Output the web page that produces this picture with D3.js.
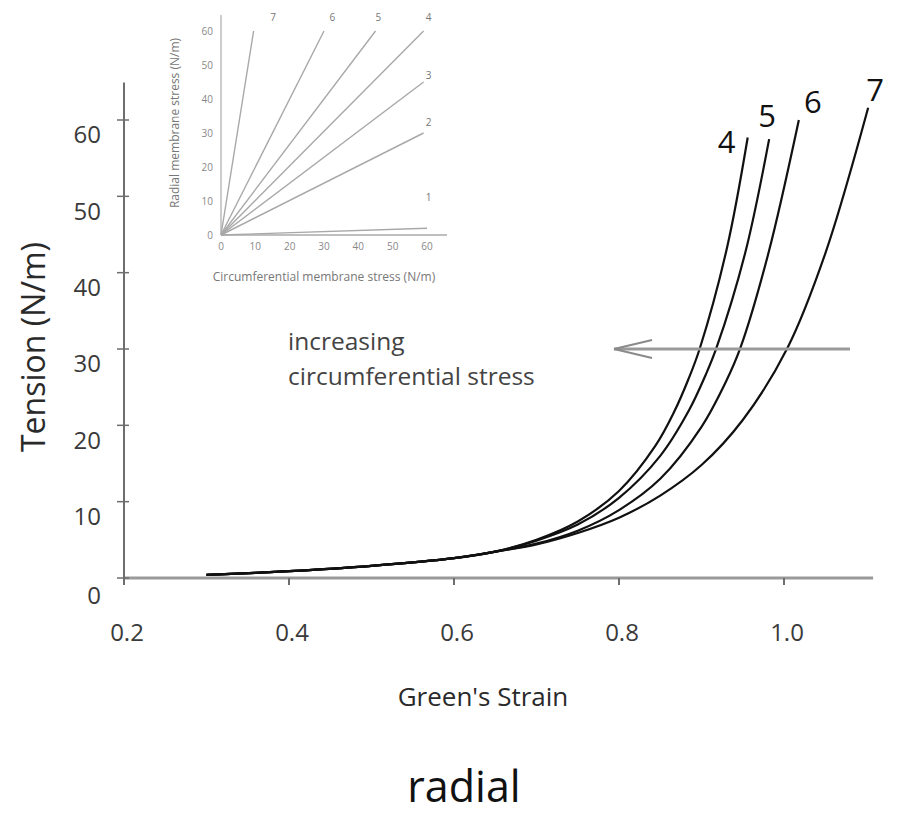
<!DOCTYPE html>
<html>
<head>
<meta charset="utf-8">
<script src="https://cdn.jsdelivr.net/npm/d3@7"></script>
<style>
  body { margin: 0; background: #fff; }
  svg { display: block; }
  text { font-family: "Open Sans", sans-serif; }
</style>
</head>
<body>
<div id="chart"></div>
<script>
// main chart data: Green's strain vs tension (N/m), curves 4..7
var curveIds = ["4", "5", "6", "7"];
var strainShared  = [0.30, 0.40, 0.50, 0.60, 0.65];
var tensionShared = [0.4, 0.9, 1.6, 2.6, 3.45];
var strain4  = [0.70, 0.75, 0.80, 0.844, 0.867, 0.884, 0.898, 0.931, 0.956];
var tension4 = [5.0, 7.4, 11.4, 17.3, 21.8, 26.0, 30.1, 43.3, 57.7];
var strain5  = [0.70, 0.75, 0.80, 0.85, 0.885, 0.905, 0.918, 0.953, 0.982];
var tension5 = [4.9, 7.0, 10.5, 16.0, 22.0, 26.6, 30.1, 42.6, 57.5];
var strain6  = [0.70, 0.75, 0.80, 0.85, 0.90, 0.93, 0.947, 0.981, 1.018];
var tension6 = [4.5, 6.2, 8.9, 13.0, 19.8, 25.8, 30.1, 42.5, 60.0];
var strain7  = [0.70, 0.75, 0.80, 0.85, 0.90, 0.95, 1.004, 1.05, 1.102];
var tension7 = [4.4, 5.9, 7.9, 10.8, 14.8, 20.7, 30.1, 42.5, 61.6];

var xTicks = [0.2, 0.4, 0.6, 0.8, 1.0];
var yTicks = [0, 10, 20, 30, 40, 50, 60];
var xAxisEnd = 1.108, yAxisEnd = 64.9;
var arrowLevel = 30, arrowFrom = 1.08, arrowTo = 0.794;

// inset: radial vs circumferential membrane stress
var insetIds  = ["1", "2", "3", "4", "5", "6", "7"];
var insetEndX = [60, 59, 59, 59, 45, 30, 9.5];
var insetEndY = [2, 30, 45, 60, 60, 60, 60];
var insetLabelX = [60.5, 60.5, 60.5, 60.5, 45.8, 32.4, 15.2];
var insetLabelY = [10.9, 33.2, 47, 64, 64, 64, 64];
var insetTicks = [0, 10, 20, 30, 40, 50, 60];

var width = 898, height = 817;

var svg = d3.select("#chart").append("svg")
    .attr("width", width)
    .attr("height", height);

var x = d3.scaleLinear().domain([0.2, 1.0]).range([124, 784]);
var y = d3.scaleLinear().domain([0, 60]).range([578, 120]);

// axes
svg.append("line")
    .attr("x1", x(0.2)).attr("x2", x(xAxisEnd))
    .attr("y1", y(0)).attr("y2", y(0))
    .attr("stroke", "#9a9a9a").attr("stroke-width", 3);
svg.append("line")
    .attr("x1", x(0.2)).attr("x2", x(0.2))
    .attr("y1", y(0) + 1).attr("y2", y(yAxisEnd))
    .attr("stroke", "#6e6e6e").attr("stroke-width", 2);

svg.selectAll(".xtick").data(xTicks).enter().append("line")
    .attr("x1", d => x(d)).attr("x2", d => x(d))
    .attr("y1", y(0)).attr("y2", y(0) + 7)
    .attr("stroke", "#6e6e6e").attr("stroke-width", 2);
svg.selectAll(".ytick").data(yTicks).enter().append("line")
    .attr("x1", x(0.2) - 7).attr("x2", x(0.2) + 5)
    .attr("y1", d => y(d)).attr("y2", d => y(d))
    .attr("stroke", "#6e6e6e").attr("stroke-width", 1.5);

svg.selectAll(".xlab").data(xTicks).enter().append("text")
    .attr("x", d => x(d) + 3).attr("y", 641)
    .attr("text-anchor", "middle")
    .attr("font-size", 24).attr("fill", "#3a3a3a")
    .text(d => d3.format(".1f")(d));
svg.selectAll(".ylab").data(yTicks).enter().append("text")
    .attr("x", 101).attr("y", d => y(d) + (d === 0 ? 18 : 15))
    .attr("dy", "0.35em")
    .attr("text-anchor", "end")
    .attr("font-size", 24).attr("fill", "#3a3a3a")
    .text(d => d);

svg.append("text")
    .attr("transform", "translate(45,347) rotate(-90)")
    .attr("text-anchor", "middle")
    .attr("font-size", 32).attr("fill", "#2a2a2a")
    .text("Tension (N/m)");
svg.append("text")
    .attr("x", 483).attr("y", 706)
    .attr("text-anchor", "middle")
    .attr("font-size", 26).attr("fill", "#2a2a2a")
    .text("Green's Strain");
svg.append("text")
    .attr("x", 464).attr("y", 802)
    .attr("text-anchor", "middle")
    .attr("font-size", 43).attr("fill", "#111")
    .text("radial");

// curves
var curveStrains = [strain4, strain5, strain6, strain7];
var curveTensions = [tension4, tension5, tension6, tension7];
var curves = curveIds.map(function(id, i) {
    var pts = strainShared.map((s, j) => [s, tensionShared[j]]);
    curveStrains[i].forEach((s, j) => pts.push([s, curveTensions[i][j]]));
    return { id: id, pts: pts };
});

var line = d3.line()
    .x(d => x(d[0]))
    .y(d => y(d[1]))
    .curve(d3.curveCatmullRom.alpha(0.5));

svg.append("g").selectAll("path").data(curves).enter().append("path")
    .attr("d", d => line(d.pts))
    .attr("fill", "none")
    .attr("stroke", "#111")
    .attr("stroke-width", 2.2);

var labelDx = [-21, -2, 14, 7], labelDy = [5, -23, -18, -18];
svg.selectAll(".clab").data(curves).enter().append("text")
    .attr("x", (d, i) => x(d.pts[d.pts.length - 1][0]) + labelDx[i])
    .attr("y", (d, i) => y(d.pts[d.pts.length - 1][1]) + labelDy[i])
    .attr("dy", "0.35em")
    .attr("text-anchor", "middle")
    .attr("font-size", 31).attr("fill", "#111")
    .text(d => d.id);

// arrow
svg.append("line")
    .attr("x1", x(arrowFrom)).attr("x2", x(arrowTo))
    .attr("y1", y(arrowLevel)).attr("y2", y(arrowLevel))
    .attr("stroke", "#9a9a9a").attr("stroke-width", 3);
svg.append("path")
    .attr("d", "M" + (x(arrowTo) + 38) + "," + (y(arrowLevel) - 9) +
               "L" + x(arrowTo) + "," + y(arrowLevel) +
               "L" + (x(arrowTo) + 38) + "," + (y(arrowLevel) + 9))
    .attr("fill", "none")
    .attr("stroke", "#8a8a8a").attr("stroke-width", 2);

svg.append("text")
    .attr("x", 288).attr("y", 350)
    .attr("font-size", 24.5).attr("fill", "#444")
    .text("increasing");
svg.append("text")
    .attr("x", 288).attr("y", 385)
    .attr("font-size", 24.5).attr("fill", "#444")
    .text("circumferential stress");

// inset
var ix = d3.scaleLinear().domain([0, 60]).range([221, 427]);
var iy = d3.scaleLinear().domain([0, 60]).range([235, 31]);
var inset = svg.append("g");

inset.append("line")
    .attr("x1", ix(0)).attr("x2", 447)
    .attr("y1", iy(0)).attr("y2", iy(0))
    .attr("stroke", "#aaa").attr("stroke-width", 1.5);
inset.append("line")
    .attr("x1", ix(0)).attr("x2", ix(0))
    .attr("y1", iy(0)).attr("y2", 15)
    .attr("stroke", "#bbb").attr("stroke-width", 1.5);

inset.selectAll(".iline").data(insetIds).enter().append("line")
    .attr("x1", ix(0)).attr("y1", iy(0))
    .attr("x2", (d, i) => ix(insetEndX[i]))
    .attr("y2", (d, i) => iy(insetEndY[i]))
    .attr("stroke", "#a8a8a8").attr("stroke-width", 1.4);

inset.selectAll(".ilab").data(insetIds).enter().append("text")
    .attr("x", (d, i) => ix(insetLabelX[i]))
    .attr("y", (d, i) => iy(insetLabelY[i]))
    .attr("dy", "0.35em")
    .attr("text-anchor", "middle")
    .attr("font-size", 10).attr("fill", "#777")
    .text(d => d);

inset.selectAll(".ixt").data(insetTicks).enter().append("text")
    .attr("x", d => ix(d)).attr("y", iy(0) + 15)
    .attr("text-anchor", "middle")
    .attr("font-size", 10).attr("fill", "#888")
    .text(d => d);
inset.selectAll(".iyt").data(insetTicks).enter().append("text")
    .attr("x", ix(0) - 8).attr("y", d => iy(d))
    .attr("dy", "0.35em")
    .attr("text-anchor", "end")
    .attr("font-size", 10).attr("fill", "#888")
    .text(d => d);

inset.append("text")
    .attr("x", 324).attr("y", 281)
    .attr("text-anchor", "middle")
    .attr("font-size", 12).attr("fill", "#777")
    .text("Circumferential membrane stress (N/m)");
inset.append("text")
    .attr("transform", "translate(179,123) rotate(-90)")
    .attr("text-anchor", "middle")
    .attr("font-size", 12).attr("fill", "#777")
    .text("Radial membrane stress (N/m)");
</script>
</body>
</html>
